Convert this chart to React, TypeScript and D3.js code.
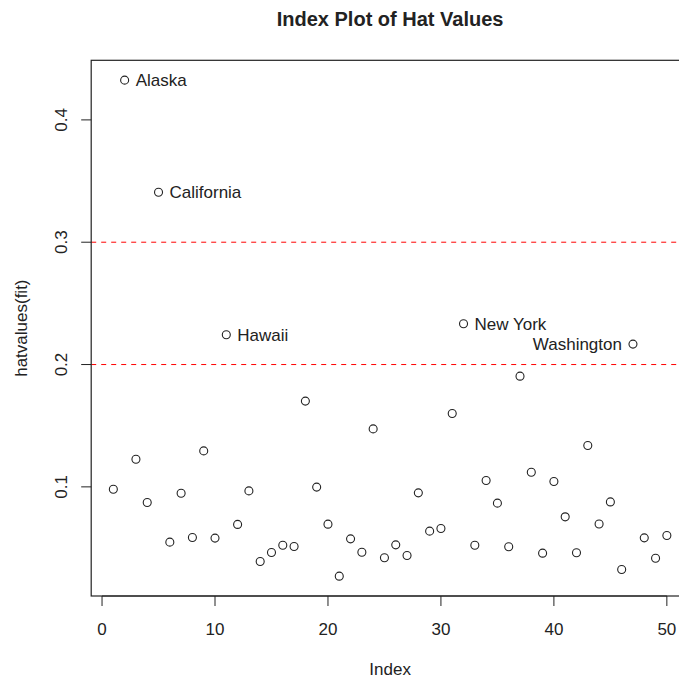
import React from "react";
import * as d3 from "d3";

const hatValues: number[] = [
  0.0981, 0.4325, 0.1226, 0.0872, 0.3409, 0.0548, 0.0948, 0.0586, 0.1294, 0.0581,
  0.2244, 0.0693, 0.0967, 0.0390, 0.0464, 0.0523, 0.0513, 0.1701, 0.0998, 0.0695,
  0.0270, 0.0575, 0.0466, 0.1474, 0.0420, 0.0526, 0.0439, 0.0951, 0.0638, 0.0660,
  0.1600, 0.2333, 0.0523, 0.1052, 0.0867, 0.0510, 0.1905, 0.1120, 0.0458, 0.1044,
  0.0755, 0.0461, 0.1338, 0.0697, 0.0877, 0.0325, 0.2167, 0.0583, 0.0417, 0.0603,
];

const labelNames: string[] = ["Alaska", "California", "Hawaii", "New York", "Washington"];
const labelIndex: number[] = [2, 5, 11, 32, 47];
const labelSide: string[] = ["right", "right", "right", "right", "left"];

const xTicks: number[] = [0, 10, 20, 30, 40, 50];
const yTicks: number[] = [0.1, 0.2, 0.3, 0.4];
const refLines: number[] = [0.2, 0.3];

const W = 679;
const H = 678;
const FONT = "'Liberation Sans', Arial, Helvetica, sans-serif";
const INK = "#222";

export default function App() {
  const n = hatValues.length;
  const xExt = (n - 1) * 0.04;
  const yMin = d3.min(hatValues) as number;
  const yMax = d3.max(hatValues) as number;
  const yExt = (yMax - yMin) * 0.04;

  const left = 91.2;
  const right = 689;
  const top = 60.3;
  const bottom = 596;

  const x = d3.scaleLinear().domain([1 - xExt, n + xExt]).range([left, right]);
  const y = d3.scaleLinear().domain([yMin - yExt, yMax + yExt]).range([bottom, top]);

  const tick = 10;

  return (
    <svg
      width={W}
      height={H}
      style={{ position: "absolute", left: 0, top: 0, background: "#fff" }}
      fontFamily={FONT}
    >
      <rect x={0} y={0} width={W} height={H} fill="#fff" />
      <text x={(left + right) / 2} y={26} textAnchor="middle" fontSize={20} fontWeight="bold" fill={INK}>
        Index Plot of Hat Values
      </text>

      {refLines.map((v) => (
        <line
          key={v}
          x1={left}
          x2={right}
          y1={y(v)}
          y2={y(v)}
          stroke="#ff0000"
          strokeWidth={1}
          strokeDasharray="5,5"
        />
      ))}

      <rect x={left} y={top} width={right - left} height={bottom - top} fill="none" stroke={INK} strokeWidth={1.2} />

      {xTicks.map((t) => (
        <g key={t}>
          <line x1={x(t)} x2={x(t)} y1={bottom} y2={bottom + tick} stroke={INK} strokeWidth={1} />
          <text x={x(t)} y={635} textAnchor="middle" fontSize={17} fill={INK}>
            {t}
          </text>
        </g>
      ))}
      <line x1={x(0)} x2={x(50)} y1={bottom} y2={bottom} stroke={INK} strokeWidth={1.2} />

      {yTicks.map((t) => (
        <g key={t}>
          <line x1={left - tick} x2={left} y1={y(t)} y2={y(t)} stroke={INK} strokeWidth={1} />
          <text
            transform={`translate(67,${y(t)}) rotate(-90)`}
            textAnchor="middle"
            fontSize={17}
            fill={INK}
          >
            {t.toFixed(1)}
          </text>
        </g>
      ))}

      <text x={(left + right) / 2} y={675} textAnchor="middle" fontSize={17} fill={INK}>
        Index
      </text>
      <text
        transform={`translate(27,${(top + bottom) / 2}) rotate(-90)`}
        textAnchor="middle"
        fontSize={17}
        fill={INK}
      >
        hatvalues(fit)
      </text>

      {hatValues.map((v, i) => (
        <circle key={i} cx={x(i + 1)} cy={y(v)} r={4} fill="none" stroke={INK} strokeWidth={1.1} />
      ))}

      {labelNames.map((name, k) => {
        const idx = labelIndex[k];
        const v = hatValues[idx - 1];
        const isLeft = labelSide[k] === "left";
        return (
          <text
            key={name}
            x={x(idx) + (isLeft ? -11 : 11)}
            y={y(v) + 6}
            textAnchor={isLeft ? "end" : "start"}
            fontSize={17}
            fill={INK}
          >
            {name}
          </text>
        );
      })}
    </svg>
  );
}
